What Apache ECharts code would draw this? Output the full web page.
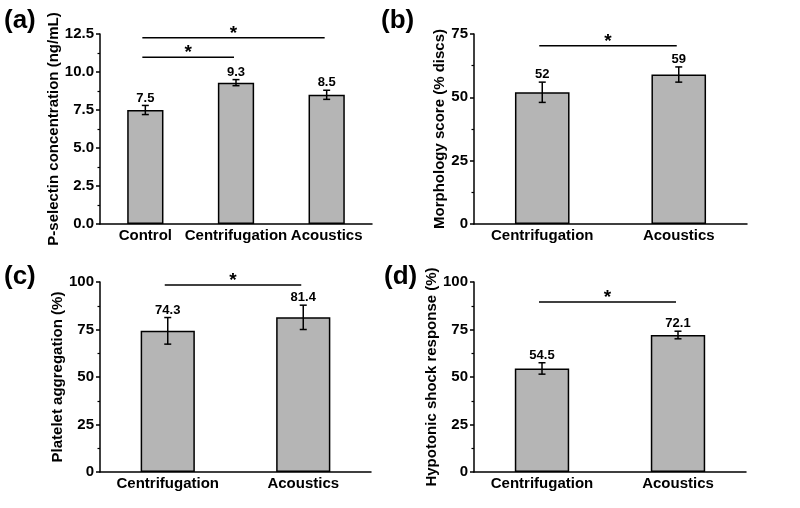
<!DOCTYPE html>
<html>
<head>
<meta charset="utf-8">
<script src="https://cdn.jsdelivr.net/npm/echarts@6/dist/echarts.min.js"></script>
<style>
  html, body { margin: 0; background: #fff; }
  #chart { width: 800px; height: 508px; }
</style>
</head>
<body>
<div id="chart"></div>
<script>
// panel (a)
const catsA = ['Control', 'Centrifugation', 'Acoustics'];
const valsA = [7.5, 9.3, 8.5];
const errA = [0.3, 0.2, 0.3];
const sigA = [[0, 1, 10.97], [0, 2, 12.26]];
// panel (b)
const catsB = ['Centrifugation', 'Acoustics'];
const valsB = [52, 59];
const errB = [4, 3];
const sigB = [[0, 1, 70.4]];
// panel (c)
const catsC = ['Centrifugation', 'Acoustics'];
const valsC = [74.3, 81.4];
const errC = [7, 6.4];
const sigC = [[0, 1, 98.4]];
// panel (d)
const catsD = ['Centrifugation', 'Acoustics'];
const valsD = [54.5, 72.1];
const errD = [3, 2];
const sigD = [[0, 1, 89.5]];

const yNames = ['P-selectin concentration (ng/mL)', 'Morphology score (% discs)',
  'Platelet aggregation (%)', 'Hypotonic shock response (%)'];
const yMax = [12.5, 75, 100, 100];
const yStep = [2.5, 25, 25, 25];
const panelTags = ['(a)', '(b)', '(c)', '(d)'];

const FONT = '"Liberation Sans", Arial, sans-serif';
const grids = [
  { left: 100, top: 34, width: 272, height: 190 },
  { left: 474, top: 34, width: 273, height: 190 },
  { left: 100, top: 282, width: 271, height: 190 },
  { left: 474, top: 282, width: 272, height: 190 }
];
const nameGaps = [35, 23, 35, 23];
const tagPos = [[4, 8], [381, 8], [4, 264], [384, 264]];

const panels = [
  { cats: catsA, vals: valsA, err: errA, sig: sigA },
  { cats: catsB, vals: valsB, err: errB, sig: sigB },
  { cats: catsC, vals: valsC, err: errC, sig: sigC },
  { cats: catsD, vals: valsD, err: errD, sig: sigD }
];

function renderErr(params, api) {
  const v = api.value(1), e = api.value(2);
  const top = api.coord([api.value(0), v + e]);
  const bot = api.coord([api.value(0), v - e]);
  const cap = 3.5;
  const st = { stroke: '#000', lineWidth: 1.5 };
  return {
    type: 'group',
    children: [
      { type: 'line', shape: { x1: top[0], y1: top[1], x2: bot[0], y2: bot[1] }, style: st },
      { type: 'line', shape: { x1: top[0] - cap, y1: top[1], x2: top[0] + cap, y2: top[1] }, style: st },
      { type: 'line', shape: { x1: bot[0] - cap, y1: bot[1], x2: bot[0] + cap, y2: bot[1] }, style: st },
      {
        type: 'text', x: top[0], y: top[1] - 1,
        style: { text: String(v), align: 'center', verticalAlign: 'bottom',
          font: 'bold 13px ' + FONT, fill: '#000' }
      }
    ]
  };
}

function renderSig(params, api) {
  const p1 = api.coord([api.value(0), api.value(2)]);
  const p2 = api.coord([api.value(1), api.value(2)]);
  const x1 = p1[0] - 3, x2 = p2[0] - 2;
  return {
    type: 'group',
    children: [
      { type: 'line', shape: { x1: x1, y1: p1[1], x2: x2, y2: p1[1] },
        style: { stroke: '#000', lineWidth: 1.5 } },
      {
        type: 'text', x: (x1 + x2) / 2, y: p1[1] - 4,
        style: { text: '*', align: 'center', verticalAlign: 'middle',
          font: 'bold 19px ' + FONT, fill: '#000' }
      }
    ]
  };
}

const chart = echarts.init(document.getElementById('chart'));

const xAxis = [], yAxis = [], series = [];
panels.forEach((p, i) => {
  xAxis.push({
    type: 'category', gridIndex: i, data: p.cats,
    axisLine: { lineStyle: { color: '#000', width: 1.5 } },
    axisTick: { show: false },
    axisLabel: { color: '#000', fontWeight: 'bold', fontSize: 15, fontFamily: FONT, margin: 4, interval: 0 }
  });
  yAxis.push({
    type: 'value', gridIndex: i, min: 0, max: yMax[i], interval: yStep[i],
    name: yNames[i], nameLocation: 'middle', nameGap: nameGaps[i],
    nameTextStyle: { color: '#000', fontWeight: 'bold', fontSize: 15, fontFamily: FONT },
    axisLine: { show: true, lineStyle: { color: '#000', width: 1.5 } },
    axisTick: { show: true, length: 4, lineStyle: { color: '#000', width: 1.5 } },
    minorTick: { show: true, splitNumber: 2, length: 2.5, lineStyle: { color: '#000', width: 1.2 } },
    splitLine: { show: false },
    axisLabel: {
      color: '#000', fontWeight: 'bold', fontSize: 15, fontFamily: FONT, margin: 6,
      formatter: i === 0 ? (v => v.toFixed(1)) : (v => v)
    }
  });
  series.push({
    type: 'bar', xAxisIndex: i, yAxisIndex: i, data: p.vals, barWidth: '40%',
    itemStyle: { color: '#b5b5b5', borderColor: '#000', borderWidth: 1.5 },
    silent: true
  });
  series.push({
    type: 'custom', xAxisIndex: i, yAxisIndex: i, renderItem: renderErr,
    data: p.vals.map((v, k) => [k, v, p.err[k]]), z: 5, silent: true
  });
  series.push({
    type: 'custom', xAxisIndex: i, yAxisIndex: i, renderItem: renderSig,
    data: p.sig, z: 5, silent: true
  });
});

chart.setOption({
  animation: false,
  backgroundColor: '#fff',
  textStyle: { fontFamily: FONT },
  grid: grids,
  xAxis: xAxis,
  yAxis: yAxis,
  series: series,
  graphic: panelTags.map((t, i) => ({
    type: 'text', left: tagPos[i][0], top: tagPos[i][1],
    style: { text: t, font: 'bold 26px ' + FONT, fill: '#000' }
  }))
});
</script>
</body>
</html>
